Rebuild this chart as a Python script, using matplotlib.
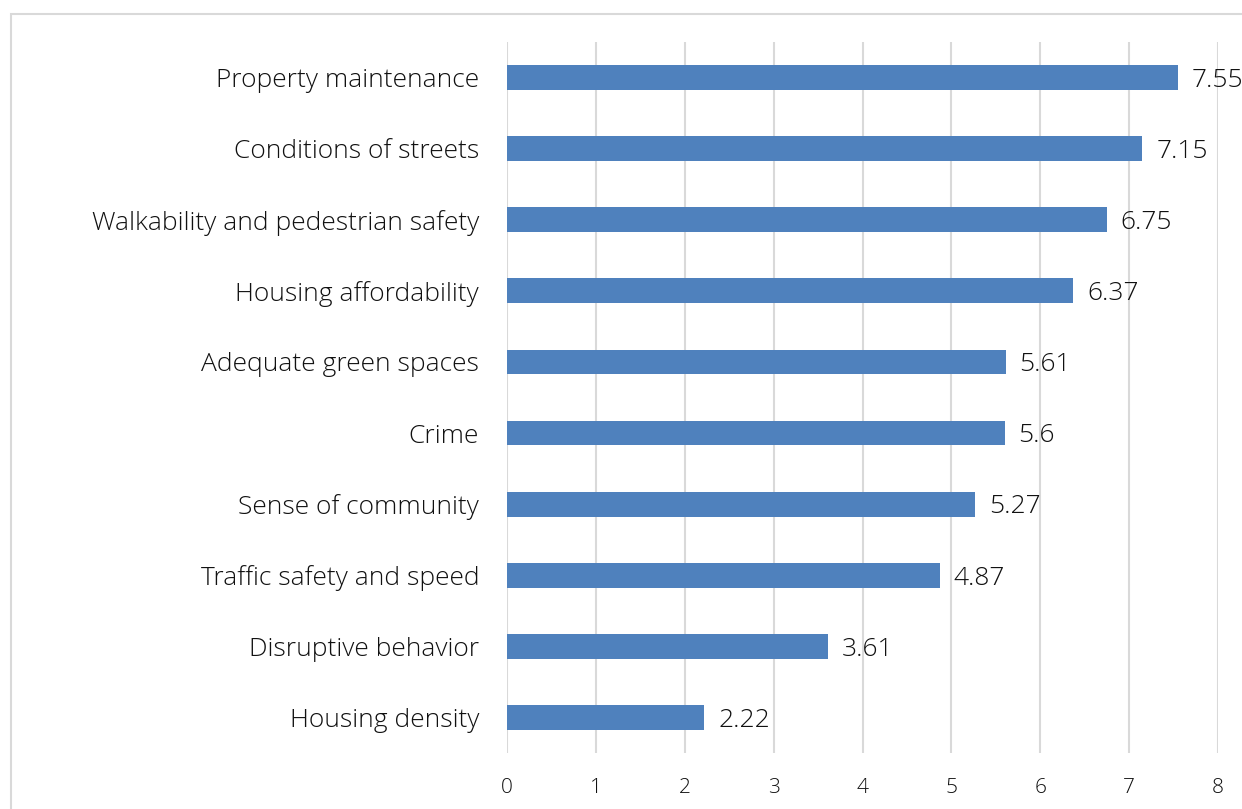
import matplotlib
matplotlib.use("Agg")
import matplotlib.pyplot as plt
from matplotlib.patches import Rectangle

categories = ["Property maintenance", "Conditions of streets", "Walkability and pedestrian safety",
              "Housing affordability", "Adequate green spaces", "Crime", "Sense of community",
              "Traffic safety and speed", "Disruptive behavior", "Housing density"]
values = [7.55, 7.15, 6.75, 6.37, 5.61, 5.6, 5.27, 4.87, 3.61, 2.22]
value_labels = ["7.55", "7.15", "6.75", "6.37", "5.61", "5.6", "5.27", "4.87", "3.61", "2.22"]
xticks = [0, 1, 2, 3, 4, 5, 6, 7, 8]

plt.rcParams['font.family'] = ['Open Sans', 'DejaVu Sans']
plt.rcParams['font.weight'] = 'light'

fig = plt.figure(figsize=(12.42, 8.09), dpi=100)
fig.patches.append(Rectangle((11/1242, -0.1), 1.2, 1 - 14/809 + 0.1, transform=fig.transFigure,
                             fill=False, edgecolor="#d9d9d9", linewidth=1.5))
ax = fig.add_axes([507/1242, 1 - 753/809, (1218 - 507)/1242, (753 - 42)/809])

n = len(categories)
ypos = list(range(n))[::-1]
ax.barh(ypos, values, height=0.35, color="#4F81BD", zorder=3)
for y, v, lab in zip(ypos, values, value_labels):
    ax.annotate(lab, (v, y), xytext=(10, -2), textcoords="offset points",
                va="center", ha="left", fontsize=19, fontweight="light",
                color="#111111", clip_on=False)

ax.set_xlim(0, 8)
ax.set_ylim(-0.5, n - 0.5)
ax.set_yticks(ypos)
ax.set_yticklabels(categories, fontsize=19, fontweight="light", color="#111111")
ax.set_xticks(xticks)
ax.set_xticklabels([str(t) for t in xticks], fontsize=15, fontweight="light", color="#111111")
ax.tick_params(axis="y", length=0, pad=20)
ax.tick_params(axis="x", length=0, pad=18)
ax.grid(axis="x", color="#d9d9d9", linewidth=1.5, zorder=0)
for s in ax.spines.values():
    s.set_visible(False)

fig.savefig("out.png", dpi=100)
